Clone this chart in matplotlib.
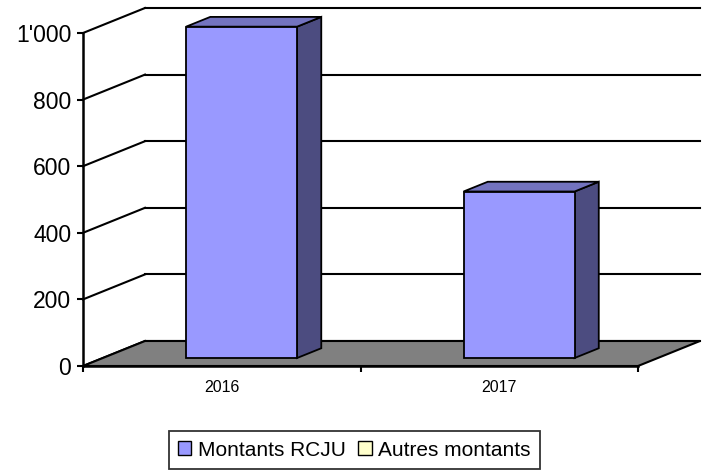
import matplotlib
matplotlib.use('Agg')
import matplotlib.pyplot as plt
from matplotlib.patches import Polygon, Patch
from matplotlib.ticker import FuncFormatter

# data
years = ['2016', '2017']
montants_rcju = [995, 500]
autres_montants = [0, 0]
y_ticks = [0, 200, 400, 600, 800, 1000]

plt.rcParams['font.family'] = ['Liberation Sans', 'DejaVu Sans']

fig = plt.figure(figsize=(7.04, 4.75), dpi=100)
ax = fig.add_axes([83 / 704, 1 - 366 / 475, 555 / 704, 333 / 475])
ax.set_xlim(-0.5, len(years) - 0.5)
ax.set_ylim(0, 1000)
ax.patch.set_visible(False)

# depth of the 3d box in data units (about 62 px right, 25 px up)
DX = 62 / (555 / len(years))
DY = 25 / (333 / 1000)


def p(x, v, d):
    return (x + d * DX, v + d * DY)


x_lo, x_hi = -0.5, len(years) - 0.5

# back wall gridlines + left wall diagonals
for v in y_ticks:
    ax.plot([p(x_lo, v, 1)[0], p(x_hi, v, 1)[0]], [p(x_lo, v, 1)[1], p(x_hi, v, 1)[1]],
            color='black', lw=1.5, clip_on=False, zorder=1)
    ax.plot([p(x_lo, v, 0)[0], p(x_lo, v, 1)[0]], [p(x_lo, v, 0)[1], p(x_lo, v, 1)[1]],
            color='black', lw=1.5, clip_on=False, zorder=1)

# floor
floor = Polygon([p(x_lo, 0, 0), p(x_hi, 0, 0), p(x_hi, 0, 1), p(x_lo, 0, 1)],
                closed=True, facecolor='#808080', edgecolor='black', lw=1.5,
                clip_on=False, zorder=2)
ax.add_patch(floor)

# bars
w = 0.40
d0, d1 = 0.32, 0.71
for i, v in enumerate(montants_rcju):
    x0, x1 = i - w / 2, i + w / 2
    front = [p(x0, 0, d0), p(x1, 0, d0), p(x1, v, d0), p(x0, v, d0)]
    side = [p(x1, 0, d0), p(x1, 0, d1), p(x1, v, d1), p(x1, v, d0)]
    top = [p(x0, v, d0), p(x1, v, d0), p(x1, v, d1), p(x0, v, d1)]
    for pts, col in [(side, '#4C4C80'), (top, '#7373BF'), (front, '#9999FF')]:
        ax.add_patch(Polygon(pts, closed=True, facecolor=col, edgecolor='black',
                             lw=1.3, clip_on=False, zorder=3))

# axes
for s in ['top', 'right']:
    ax.spines[s].set_visible(False)
ax.spines['left'].set_linewidth(1.8)
ax.spines['bottom'].set_linewidth(1.8)
ax.spines['bottom'].set_zorder(4)
ax.spines['left'].set_zorder(4)

ax.set_yticks(y_ticks)
ax.yaxis.set_major_formatter(FuncFormatter(lambda v, pos: f"{v:,.0f}".replace(',', "'")))
ax.tick_params(axis='y', direction='out', length=4.5, width=1.5, pad=4, labelsize=16.5)

ax.set_xticks(range(len(years)))
ax.set_xticklabels(years)
ax.set_xticks([x_lo + k for k in range(len(years) + 1)], minor=True)
ax.tick_params(axis='x', which='major', length=0, pad=10, labelsize=11.5)
ax.tick_params(axis='x', which='minor', direction='out', length=4.5, width=1.5)

handles = [Patch(facecolor='#9999FF', edgecolor='black', label='Montants RCJU'),
           Patch(facecolor='#FFFFCC', edgecolor='black', label='Autres montants')]
leg = fig.legend(handles=handles, loc='center', bbox_to_anchor=(0.503, 0.0526),
                 bbox_transform=fig.transFigure, ncol=2, fontsize=15,
                 frameon=True, fancybox=False, handlelength=0.65, handleheight=0.65,
                 handletextpad=0.3, columnspacing=0.6, borderpad=0.45, borderaxespad=0)
leg.get_frame().set_edgecolor('black')
leg.get_frame().set_linewidth(1.3)

fig.savefig('out.png', dpi=100)
